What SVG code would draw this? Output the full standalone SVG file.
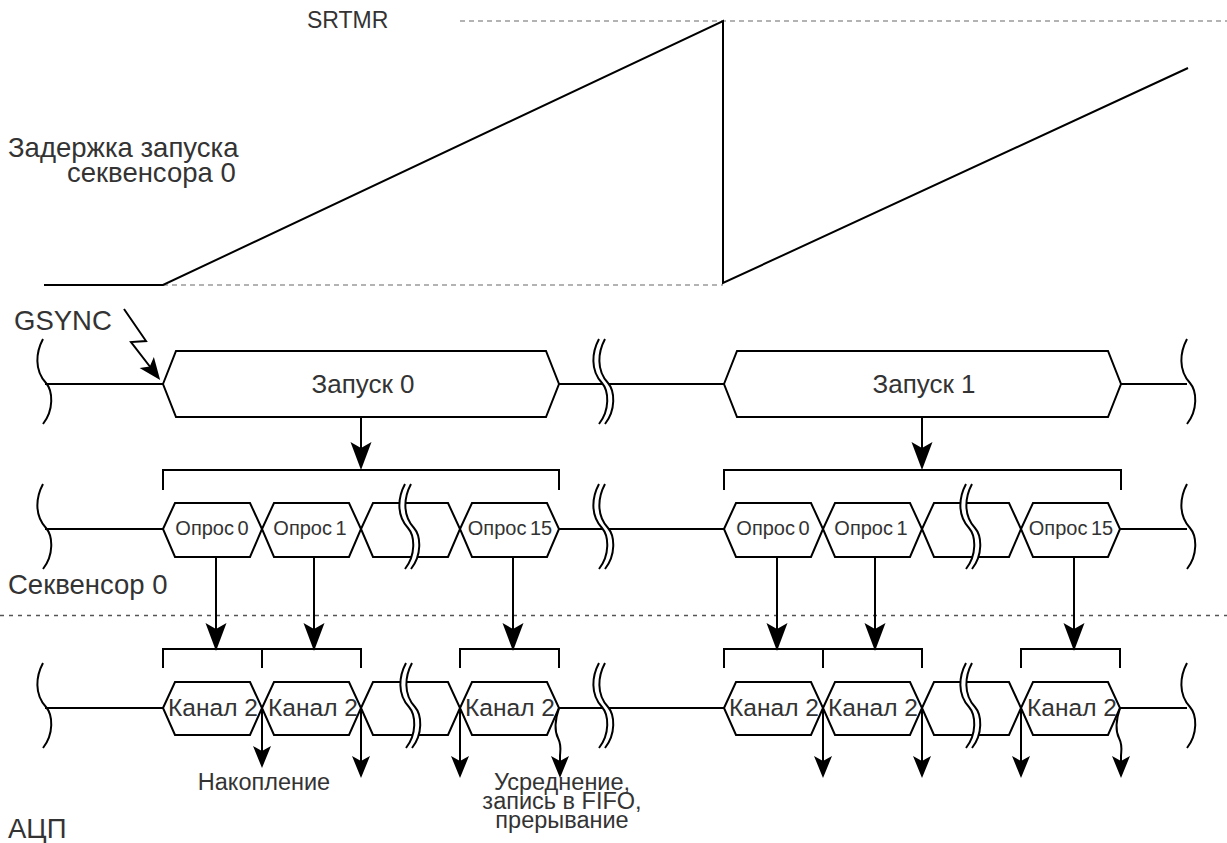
<svg xmlns="http://www.w3.org/2000/svg" width="1227" height="843" viewBox="0 0 1227 843">
<style>
.ln{fill:none;stroke:#000;stroke-width:2}
.hx{fill:#fff;stroke:#000;stroke-width:2;stroke-linejoin:miter}
.dg{fill:none;stroke:#9a9a9a;stroke-width:1.6;stroke-dasharray:5 4}
.sep{fill:none;stroke:#555;stroke-width:1.6;stroke-dasharray:4 5}
.wv{fill:none;stroke:#000;stroke-width:2}
.wf{fill:#fff;stroke:none}
.t{font-family:"Liberation Sans",Arial,sans-serif;fill:#333}
.big{font-size:27.5px}
.zap{font-size:26px;text-anchor:middle}
.op{font-size:20px;text-anchor:middle;word-spacing:-2px}
.kn{font-size:24.5px;text-anchor:middle}
.nt{font-size:23.5px;text-anchor:middle}
.ar{fill:none;stroke:#000;stroke-width:2;marker-end:url(#ah)}
.as{fill:none;stroke:#000;stroke-width:2;marker-end:url(#as)}
</style>
<defs>
<marker id="ah" markerUnits="userSpaceOnUse" viewBox="-30 -12 32 24" markerWidth="32" markerHeight="24" refX="-20" refY="0" orient="auto">
<path d="M0,0 L-28,-10.5 L-22,0 L-28,10.5 Z" fill="#000"/>
</marker>
<marker id="as" markerUnits="userSpaceOnUse" viewBox="-24 -10 26 20" markerWidth="26" markerHeight="20" refX="-15" refY="0" orient="auto">
<path d="M0,0 L-22,-9 L-17,0 L-22,9 Z" fill="#000"/>
</marker>
<path id="w1" d="M0,-45 C-7,-32 -9,-14 3,-1 C10,7 11,26 0,40"/>
<path id="w2" d="M0,-45 C-7,-32 -9,-14 3,-1 C10,7 11,26 0,40 L6,40 C17,26 16,7 9,-1 C-3,-14 -1,-32 6,-45 Z"/>
</defs>

<g id="timer">
<path class="dg" d="M460,21 H1227"/>
<path class="dg" d="M163,285 H723"/>
<path class="ln" d="M44,285 H163 L723,21 V283 L1188,68"/>
<text class="t" x="307" y="28" font-size="23">SRTMR</text>
<text class="t big" x="8" y="157">Задержка запуска</text>
<text class="t big" x="67" y="182">секвенсора 0</text>
</g>

<path id="separator" class="sep" d="M0,615.5 H1227"/>

<g id="labels">
<text class="t big" x="14" y="330">GSYNC</text>
<text class="t big" x="8" y="594">Секвенсор 0</text>
<text class="t big" x="8" y="838">АЦП</text>
</g>

<g id="row-launch">
<path class="ln" d="M45,384 H163 M559,384 H724 M1121,384 H1187"/>
<g id="launch0"><path class="hx" d="M163,384 L176,351 H546 L559,384 L546,417 H176 Z"/><text class="t zap" x="363" y="393">Запуск 0</text></g>
<g id="launch1"><path class="hx" d="M724,384 L737,351 H1108 L1121,384 L1108,417 H737 Z"/><text class="t zap" x="924" y="393">Запуск 1</text></g>
<use href="#w1" class="wv" x="43" y="384"/>
<use href="#w1" class="wv" x="1187" y="384"/>
<g transform="translate(599,384)"><use href="#w2" class="wf"/><use href="#w1" class="wv"/><use href="#w1" class="wv" x="6"/></g>
</g>

<g id="row-seq">
<path class="ln" d="M45,529 H163 M559,529 H724 M1120,529 H1187"/>
<g id="s0"><path class="hx" d="M163,529 L175,503 H250 L262,529 L250,557 H175 Z"/><text class="t op" x="212" y="535">Опрос 0</text></g>
<g id="s1"><path class="hx" d="M262,529 L274,503 H349 L361,529 L349,557 H274 Z"/><text class="t op" x="310" y="535">Опрос 1</text></g>
<g id="sgap"><path class="hx" d="M361,529 L373,503 H448 L460,529 L448,557 H373 Z"/></g>
<g id="s15"><path class="hx" d="M460,529 L472,503 H547 L559,529 L547,557 H472 Z"/><text class="t op" x="510" y="535">Опрос 15</text></g>
<g id="s0b"><path class="hx" d="M724,529 L736,503 H811 L823,529 L811,557 H736 Z"/><text class="t op" x="773" y="535">Опрос 0</text></g>
<g id="s1b"><path class="hx" d="M823,529 L835,503 H910 L922,529 L910,557 H835 Z"/><text class="t op" x="871" y="535">Опрос 1</text></g>
<g id="sgapb"><path class="hx" d="M922,529 L934,503 H1009 L1021,529 L1009,557 H934 Z"/></g>
<g id="s15b"><path class="hx" d="M1021,529 L1033,503 H1108 L1120,529 L1108,557 H1033 Z"/><text class="t op" x="1071" y="535">Опрос 15</text></g>
<use href="#w1" class="wv" x="43" y="529"/>
<use href="#w1" class="wv" x="1187" y="529"/>
<g transform="translate(599,529)"><use href="#w2" class="wf"/><use href="#w1" class="wv"/><use href="#w1" class="wv" x="6"/></g>
<g transform="translate(405,529)"><use href="#w2" class="wf"/><use href="#w1" class="wv"/><use href="#w1" class="wv" x="6"/></g>
<g transform="translate(966,529)"><use href="#w2" class="wf"/><use href="#w1" class="wv"/><use href="#w1" class="wv" x="6"/></g>
</g>

<g id="row-adc">
<path class="ln" d="M45,708 H163 M559,708 H724 M1120,708 H1187"/>
<g id="c0"><path class="hx" d="M163,708 L175,682 H250 L262,708 L250,735 H175 Z"/></g>
<g id="c1"><path class="hx" d="M262,708 L274,682 H349 L361,708 L349,735 H274 Z"/></g>
<g id="cgap"><path class="hx" d="M361,708 L373,682 H448 L460,708 L448,735 H373 Z"/></g>
<g id="c15"><path class="hx" d="M460,708 L472,682 H547 L559,708 L547,735 H472 Z"/></g>
<g id="c0b"><path class="hx" d="M724,708 L736,682 H811 L823,708 L811,735 H736 Z"/></g>
<g id="c1b"><path class="hx" d="M823,708 L835,682 H910 L922,708 L910,735 H835 Z"/></g>
<g id="cgapb"><path class="hx" d="M922,708 L934,682 H1009 L1021,708 L1009,735 H934 Z"/></g>
<g id="c15b"><path class="hx" d="M1021,708 L1033,682 H1108 L1120,708 L1108,735 H1033 Z"/></g>
<use href="#w1" class="wv" x="43" y="708"/>
<use href="#w1" class="wv" x="1187" y="708"/>
<g transform="translate(599,708)"><use href="#w2" class="wf"/><use href="#w1" class="wv"/><use href="#w1" class="wv" x="6"/></g>
<g transform="translate(406,708)"><use href="#w2" class="wf"/><use href="#w1" class="wv"/><use href="#w1" class="wv" x="6"/></g>
<g transform="translate(966,708)"><use href="#w2" class="wf"/><use href="#w1" class="wv"/><use href="#w1" class="wv" x="6"/></g>
</g>

<g id="brackets">
<path class="ln" d="M163,490 V470 H559 V490 M724,490 V470 H1121 V490"/>
<path class="ln" d="M163,668 V649 H361 V668 M262,649 V668 M460,668 V649 H559 V668"/>
<path class="ln" d="M724,668 V649 H922 V668 M823,649 V668 M1021,668 V649 H1120 V668"/>
</g>

<g id="connectors">
<path class="as" d="M124,309 L146,341 L131,342 L151,368"/>
<path class="ar" d="M361,417 V450"/>
<path class="ar" d="M922,417 V450"/>
<path class="ar" d="M216,557 V631"/>
<path class="ar" d="M314,557 V631"/>
<path class="ar" d="M513,557 V631"/>
<path class="ar" d="M777,557 V631"/>
<path class="ar" d="M875,557 V631"/>
<path class="ar" d="M1074,557 V631"/>
<path class="as" d="M262,708 V753"/>
<path class="as" d="M361,708 V763"/>
<path class="as" d="M460,708 V763"/>
<path class="as" d="M559,708 C555,720 554,730 558,738 C562,746 560,752 560,756 V763"/>
<path class="as" d="M823,708 V763"/>
<path class="as" d="M922,708 V763"/>
<path class="as" d="M1021,708 V763"/>
<path class="as" d="M1120,708 C1116,720 1115,730 1119,738 C1123,746 1121,752 1121,756 V763"/>
</g>

<g id="adc-texts">
<text class="t kn" x="213" y="716">Канал 2</text>
<text class="t kn" x="313" y="716">Канал 2</text>
<text class="t kn" x="510" y="716">Канал 2</text>
<text class="t kn" x="774" y="716">Канал 2</text>
<text class="t kn" x="873" y="716">Канал 2</text>
<text class="t kn" x="1072" y="716">Канал 2</text>
<text class="t nt" x="264" y="790">Накопление</text>
<text class="t nt" x="562" y="790">Усреднение,</text>
<text class="t nt" x="562" y="809">запись в FIFO,</text>
<text class="t nt" x="562" y="828">прерывание</text>
</g>
</svg>
